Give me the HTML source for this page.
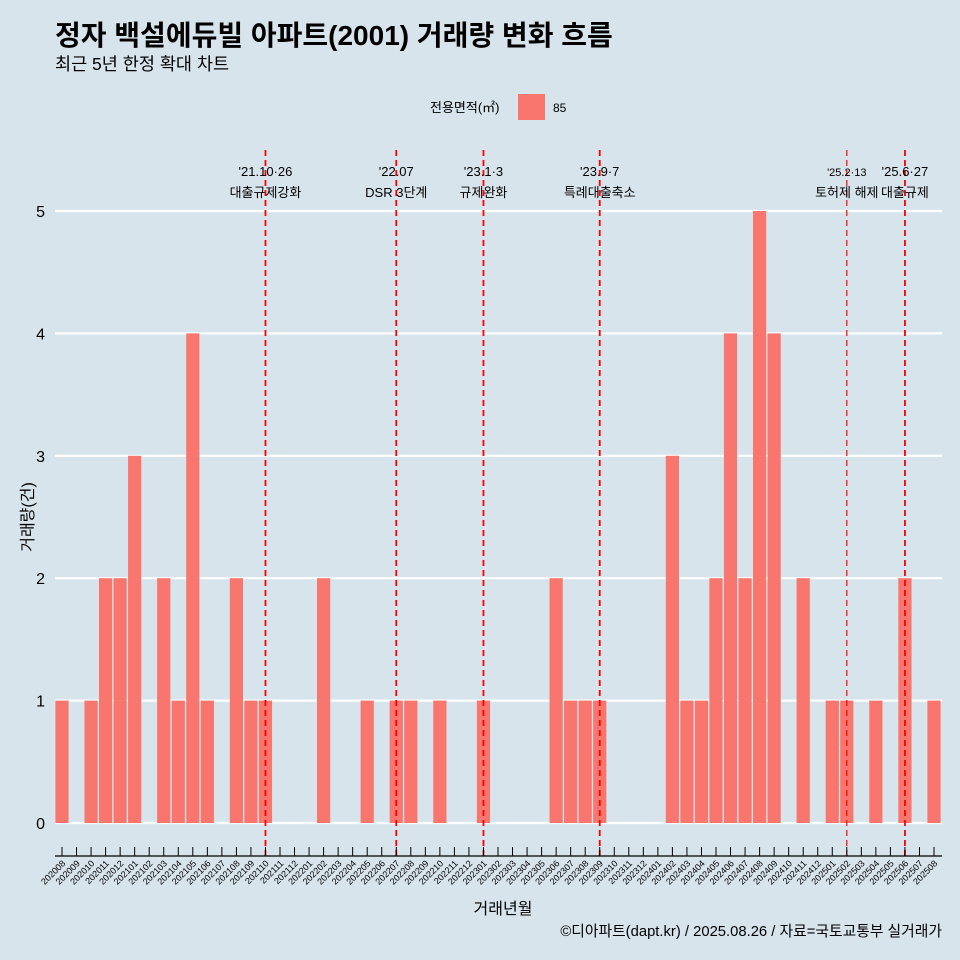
<!DOCTYPE html>
<html><head><meta charset="utf-8">
<style>
body{margin:0;background:#d7e4ec;}
svg{display:block;font-family:"Liberation Sans","Noto Sans CJK KR",sans-serif;}
</style></head>
<body>
<svg id="c" width="960" height="960" viewBox="0 0 960 960">
<rect width="960" height="960" fill="#d7e4ec"/>
<text x="55" y="45" font-size="28" font-weight="bold" fill="#000">정자 백설에듀빌 아파트(2001) 거래량 변화 흐름</text>
<text x="55" y="70" font-size="17.5" fill="#000">최근 5년 한정 확대 차트</text>
<g>
<text x="430" y="112" font-size="13">전용면적(㎡)</text>
<rect x="518" y="94" width="27" height="26" fill="#f8766d"/>
<text x="553" y="112" font-size="12">85</text>
</g>
<g id="grid"></g><g id="bars"></g><g id="vlines"></g><g id="xaxis"></g><g id="yaxis"></g>
<text x="503" y="914" font-size="16" text-anchor="middle">거래년월</text>
<text transform="translate(33,517) rotate(-90)" font-size="16" text-anchor="middle">거래량(건)</text>
<text x="942" y="936" font-size="14.8" text-anchor="end">©디아파트(dapt.kr) / 2025.08.26 / 자료=국토교통부 실거래가</text>
</svg>
<script>
const months=[];
for(let y=2020,m=8;!(y===2025&&m===9);){months.push(''+y+(m<10?'0':'')+m);m++;if(m>12){m=1;y++;}}
const barMonths=['202008','202010','202011','202012','202101','202103','202104','202105','202106','202108','202109','202110','202202','202205','202207','202208','202210','202301','202306','202307','202308','202309','202402','202403','202404','202405','202406','202407','202408','202409','202411','202501','202502','202504','202506','202508'];
const barValues=[1,1,2,2,3,2,1,4,1,2,1,1,2,1,1,1,1,1,2,1,1,1,3,1,1,2,4,2,5,4,2,1,1,1,2,1];
const yTicks=[0,1,2,3,4,5];
const eventMonths=['202110','202207','202301','202309','202502','202506'];
const eventDates=["'21.10·26","'22.07","'23.1·3","'23.9·7","'25.2·13","'25.6·27"];
const eventTexts=['대출규제강화','DSR 3단계','규제완화','특례대출축소','토허제 해제','대출규제'];
const eventThin=[false,false,false,false,true,false];
const NS='http://www.w3.org/2000/svg';
function el(t,a,p){const e=document.createElementNS(NS,t);for(const k in a)e.setAttribute(k,a[k]);document.getElementById(p).appendChild(e);return e;}
const x=m=>62+months.indexOf(m)*(934-62)/(months.length-1);
const y=v=>823-v*(823-211)/5;
yTicks.forEach(v=>{
 const l=el('line',{x1:55,x2:942,y1:y(v),y2:y(v),stroke:'#fff','stroke-width':2.2},'grid');
 
 
 const t=el('text',{x:45,y:y(v)+6,'font-size':16,'text-anchor':'end'},'yaxis');t.textContent=v;
 
 
});
barMonths.forEach((m,i)=>{
 const r=el('rect',{x:x(m)-6.6,y:y(barValues[i]),width:13.2,height:y(0)-y(barValues[i]),fill:'#f8766d'},'bars');
 
 
});
eventMonths.forEach((m,i)=>{
 const xx=x(m);
 const l=el('line',{x1:xx,x2:xx,y1:150,y2:856,stroke:'#ff0000','stroke-width':eventThin[i]?1.2:1.8,'stroke-dasharray':'6,4'},'vlines');
 
 
 const t1=el('text',{x:xx,y:176,'font-size':eventThin[i]?11:13,'text-anchor':'middle'},'vlines');t1.textContent=eventDates[i];
 
 
 const t2=el('text',{x:xx,y:197,'font-size':13,'text-anchor':'middle'},'vlines');t2.textContent=eventTexts[i];
 
 
});
const ax=el('line',{x1:55,x2:942,y1:856,y2:856,stroke:'#000','stroke-width':1.2},'xaxis');


months.forEach(m=>{
 const xx=x(m);
 el('line',{x1:xx,x2:xx,y1:847,y2:856,stroke:'#000','stroke-width':1},'xaxis');
 const t=el('text',{transform:`translate(${xx+4},${864}) rotate(-45)`,'font-size':9,'text-anchor':'end'},'xaxis');t.textContent=m;
 
 
});
</script>
</body></html>
